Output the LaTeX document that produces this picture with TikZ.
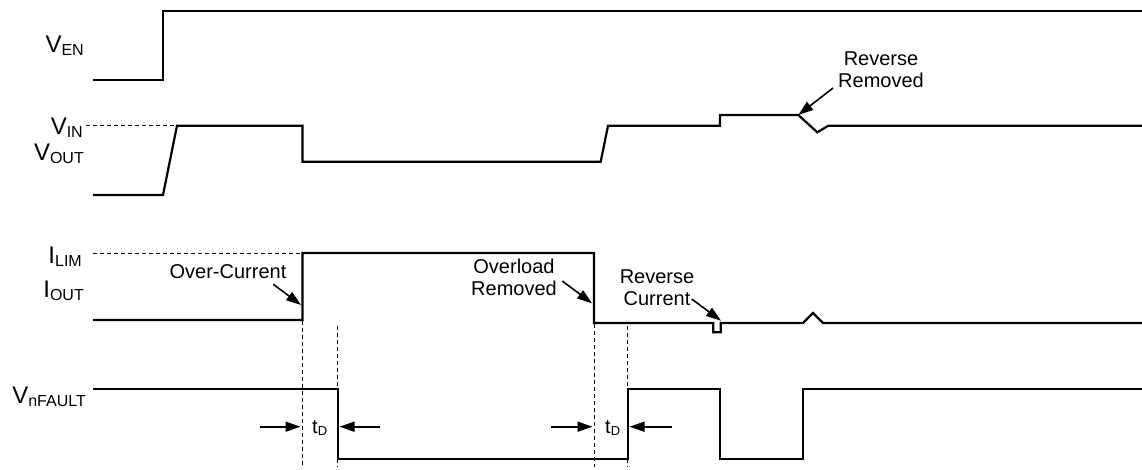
\documentclass[tikz,border=0pt]{standalone}
\usepackage{fontspec}
\setmainfont{Liberation Sans}
\usetikzlibrary{arrows.meta}
\newcommand{\siglab}[2]{{\fontsize{24}{24}\selectfont #1}\raisebox{-3pt}{\fontsize{16}{16}\selectfont #2}}
\newcommand{\tdlab}{{\fontsize{20}{20}\selectfont t}\raisebox{-2pt}{\fontsize{13}{13}\selectfont D}}
\tikzset{
  wave/.style={line width=2.2pt, line join=miter},
  guide/.style={line width=0.9pt, dash pattern=on 4pt off 3pt},
  note/.style={font=\fontsize{20}{22}\selectfont, align=center, inner sep=0pt},
  lab/.style={anchor=base east, inner sep=0pt},
  pointer/.style={line width=1.6pt, -{Triangle[length=15pt,width=10pt]}},
}
\begin{document}
\begin{tikzpicture}[x=1pt,y=-1pt]
\useasboundingbox (0,0) rectangle (1142,469);

% signal labels
\node[lab] (len) at (84,52) {\siglab{V}{EN}};
\node[lab] (lin) at (83,134.5) {\siglab{V}{IN}};
\node[lab] (lout) at (84,160) {\siglab{V}{OUT}};
\node[lab] (llim) at (82,263) {\siglab{I}{LIM}};
\node[lab] (liout) at (84,297) {\siglab{I}{OUT}};
\node[lab] (lfault) at (86,403) {\siglab{V}{nFAULT}};

% V_EN
\draw[wave] (93,80) -- (163,80) -- (163,10.7) -- (1142,10.7);

% V_IN / V_OUT
\draw[guide] (86,125.7) -- (177,125.7);
\draw[wave] (93,195) -- (163,195) -- (177,125.7) -- (302.5,125.7) -- (302.5,161.7)
  -- (600.7,161.7) -- (608,125.7) -- (720,125.7) -- (720,115) -- (798.3,115)
  coordinate (rrem) -- (817.3,132.3) -- (828.3,125.7) -- (1142,125.7);

% I_LIM / I_OUT
\draw[guide] (93,253) -- (302,253);
\draw[wave] (93,320) -- (302.5,320) coordinate (oc) -- (302.5,253) -- (594,253)
  -- (594,323) coordinate (olr) -- (713.3,323) -- (713.3,332.3) -- (720.7,332.3)
  -- (720.7,323) -- (803,323) -- (813,313) -- (823,323) -- (1142,323);
\coordinate (rc) at (721,320.7);

% V_nFAULT
\draw[wave] (93,389.3) -- (337.7,389.3) -- (337.7,459) -- (627.7,459) -- (627.7,389.3)
  -- (720,389.3) -- (720,459) -- (803.3,459) -- (803.3,389.3) -- (1142,389.3);

% vertical guides
\draw[guide] (302.5,321) -- (302.5,467);
\draw[guide] (337.7,326) -- (337.7,467);
\draw[guide] (594,324) -- (594,467);
\draw[guide] (627.7,326) -- (627.7,467);

% t_D markers
\coordinate (a1s) at (260,426.7);
\coordinate (a1e) at (300.5,426.7);
\coordinate (a2s) at (380,426.7);
\coordinate (a2e) at (339.5,426.7);
\draw[pointer] (a1s) -- (a1e);
\draw[pointer] (a2s) -- (a2e);
\node[anchor=base west, inner sep=0pt] (td1) at (312,433) {\tdlab};
\coordinate (b1s) at (551,426.7);
\coordinate (b1e) at (592.5,426.7);
\coordinate (b2s) at (672,426.7);
\coordinate (b2e) at (629.5,426.7);
\draw[pointer] (b1s) -- (b1e);
\draw[pointer] (b2s) -- (b2e);
\node[anchor=base west, inner sep=0pt] (td2) at (605,433) {\tdlab};

% annotations
\node[note, anchor=base] (noc) at (228,278) {Over-Current};
\coordinate (noct) at (273.3,284.3);
\draw[pointer] (noct) -- (301,305);

\node[note, anchor=base] (nol) at (514,295) {Overload\\Removed};
\coordinate (nolt) at (562.3,281);
\draw[pointer] (nolt) -- (592,303.3);

\node[note, anchor=base] (nrc) at (657,305) {Reverse\\Current};
\coordinate (nrct) at (691.7,299);
\draw[pointer] (nrct) -- (rc);

\node[note, anchor=base] (nrr) at (881,87) {Reverse\\Removed};
\coordinate (nrrt) at (833,88);
\draw[pointer] (nrrt) -- (rrem);
\end{tikzpicture}
\end{document}
